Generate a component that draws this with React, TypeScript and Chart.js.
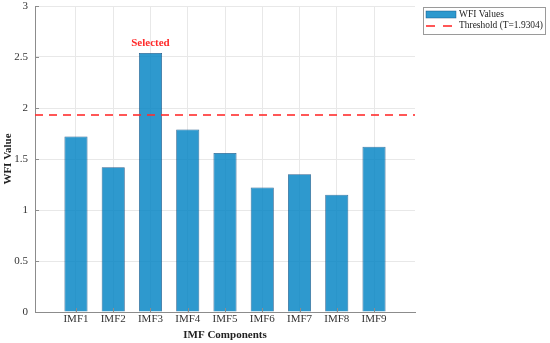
import React, { useEffect, useRef } from "react";
import { Chart, registerables } from "chart.js";

Chart.register(...registerables);

const categories = ["IMF1", "IMF2", "IMF3", "IMF4", "IMF5", "IMF6", "IMF7", "IMF8", "IMF9"];
const wfiValues = [1.72, 1.42, 2.54, 1.79, 1.56, 1.22, 1.35, 1.15, 1.62];
const threshold = 1.9304;
const selectedIndex = 2;
const yTicks = [0, 0.5, 1, 1.5, 2, 2.5, 3];

const FONT = "'Liberation Serif', 'Times New Roman', serif";

const extrasPlugin = {
  id: "extras",
  afterDatasetsDraw(chart: any) {
    const { ctx, scales, chartArea } = chart;
    const x = scales.x.getPixelForValue(selectedIndex + 1);
    const y = scales.y.getPixelForValue(wfiValues[selectedIndex]);
    ctx.save();
    // inward tick marks
    ctx.strokeStyle = "#8c8c8c";
    ctx.lineWidth = 1;
    ctx.beginPath();
    scales.y.ticks.forEach((t: any) => {
      const py = Math.round(scales.y.getPixelForValue(t.value)) + 0.5;
      ctx.moveTo(chartArea.left, py);
      ctx.lineTo(chartArea.left + 4, py);
    });
    scales.x.ticks.forEach((t: any) => {
      const px = Math.round(scales.x.getPixelForValue(t.value)) + 0.5;
      ctx.moveTo(px, chartArea.bottom);
      ctx.lineTo(px, chartArea.bottom - 4);
    });
    ctx.stroke();
    ctx.fillStyle = "#FF2A2A";
    ctx.font = `bold 11px ${FONT}`;
    ctx.textAlign = "center";
    ctx.textBaseline = "bottom";
    ctx.fillText("Selected", x, y - 4);
    ctx.restore();
  },
  afterDraw(chart: any) {
    const { ctx } = chart;
    const ds = chart.data.datasets;
    const bx = 423.5, by = 7.5, bw = 122, bh = 27;
    ctx.save();
    ctx.fillStyle = "#fff";
    ctx.fillRect(bx, by, bw, bh);
    ctx.strokeStyle = "#9a9a9a";
    ctx.lineWidth = 1;
    ctx.strokeRect(bx, by, bw, bh);
    // bar patch
    ctx.fillStyle = ds[0].backgroundColor;
    ctx.fillRect(426, 11, 30, 7);
    ctx.strokeStyle = ds[0].borderColor;
    ctx.lineWidth = 0.5;
    ctx.strokeRect(426, 11, 30, 7);
    // dashed line
    ctx.strokeStyle = ds[1].borderColor;
    ctx.lineWidth = 2;
    ctx.setLineDash([9, 8]);
    ctx.beginPath();
    ctx.moveTo(426, 26);
    ctx.lineTo(457, 26);
    ctx.stroke();
    ctx.setLineDash([]);
    ctx.fillStyle = "#222";
    ctx.textAlign = "left";
    ctx.textBaseline = "middle";
    let size = 11;
    ctx.font = `${size}px ${FONT}`;
    const w = ctx.measureText(ds[1].label).width;
    size = Math.min(11, (11 * 84) / w);
    ctx.font = `${size}px ${FONT}`;
    ctx.fillText(ds[0].label, 459, 14.5);
    ctx.fillText(ds[1].label, 459, 26);
    ctx.restore();
  },
};

export default function App() {
  const ref = useRef<HTMLCanvasElement>(null);
  useEffect(() => {
    if (!ref.current) return;
    const chart = new Chart(ref.current, {
      type: "bar",
      data: {
        datasets: [
          {
            type: "bar",
            label: "WFI Values",
            data: wfiValues.map((v, i) => ({ x: i + 1, y: v })),
            backgroundColor: "rgba(0,130,195,0.82)",
            borderColor: "rgba(20,80,130,0.9)",
            borderWidth: 0.8,
            categoryPercentage: 1,
            barPercentage: 0.62,
            order: 2,
          } as any,
          {
            type: "line",
            label: `Threshold (T=${threshold})`,
            data: [
              { x: -0.1, y: threshold },
              { x: 10.1, y: threshold },
            ],
            borderColor: "rgba(255,45,45,0.8)",
            borderWidth: 2,
            borderDash: [8, 6],
            pointRadius: 0,
            fill: false,
            order: 1,
          } as any,
        ],
      },
      options: {
        animation: false,
        responsive: false,
        maintainAspectRatio: false,
        layout: { padding: { top: 6, right: 135, left: 0, bottom: 0 } },
        plugins: { legend: { display: false }, tooltip: { enabled: false } },
        scales: {
          x: {
            type: "linear",
            offset: false,
            min: -0.1,
            max: 10.1,
            afterBuildTicks(scale: any) {
              scale.ticks = categories.map((_, i) => ({ value: i + 1 }));
            },
            afterFit(scale: any) {
              scale.height = 31;
              scale.paddingLeft = 0;
              scale.paddingRight = 0;
            },
            ticks: {
              callback: (v: any) => categories[Number(v) - 1] ?? "",
              font: { family: FONT, size: 11 },
              color: "#333",
              padding: 1,
              maxRotation: 0,
              autoSkip: false,
            },
            grid: { color: "#e8e8e8", tickLength: 0, lineWidth: 1, offset: false },
            border: { color: "#8c8c8c", width: 1 },
            title: {
              display: true,
              text: "IMF Components",
              font: { family: FONT, size: 11, weight: "bold" },
              color: "#222",
              padding: { top: 1, bottom: 1 },
            },
          },
          y: {
            min: 0,
            max: 3,
            afterBuildTicks(scale: any) {
              scale.ticks = yTicks.map((v) => ({ value: v }));
            },
            afterFit(scale: any) {
              scale.width = 35;
              scale.paddingTop = 0;
              scale.paddingBottom = 0;
            },
            ticks: {
              callback: (v: any) => String(v),
              font: { family: FONT, size: 11 },
              color: "#333",
              padding: 7,
            },
            grid: { color: "#e8e8e8", tickLength: 0, lineWidth: 1 },
            border: { color: "#8c8c8c", width: 1 },
            title: {
              display: true,
              text: "WFI Value",
              font: { family: FONT, size: 11, weight: "bold" },
              color: "#222",
              padding: { top: 2, bottom: 0 },
            },
          },
        },
      },
      plugins: [extrasPlugin],
    });
    return () => chart.destroy();
  }, []);
  return (
    <div style={{ position: "absolute", left: 0, top: 0, width: 550, height: 343, background: "#fff" }}>
      <canvas ref={ref} width={550} height={343} style={{ width: 550, height: 343 }} />
    </div>
  );
}
